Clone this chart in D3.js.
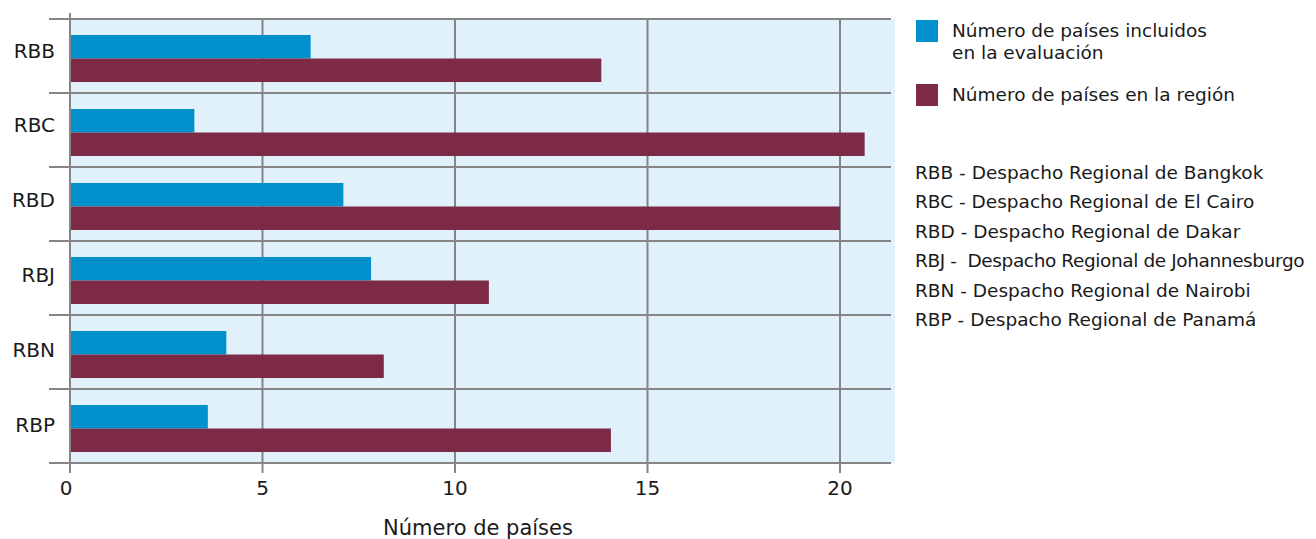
<!DOCTYPE html>
<html>
<head>
<meta charset="utf-8">
<script src="https://cdn.jsdelivr.net/npm/d3@7"></script>
<style>
  html, body { margin: 0; padding: 0; background: #fff; }
  svg { display: block; font-family: "DejaVu Sans", Verdana, sans-serif; }
</style>
</head>
<body>
<svg id="chart" width="1316" height="539"></svg>
<script>
// ---- data ----
const categories = ["RBB", "RBC", "RBD", "RBJ", "RBN", "RBP"];
const seriesNames = ["Número de países incluidos en la evaluación", "Número de países en la región"];
const incluidos = [6.25, 3.23, 7.1, 7.82, 4.06, 3.58];
const enRegion = [13.8, 20.64, 20.0, 10.88, 8.15, 14.05];
const xTicks = [0, 5, 10, 15, 20];
const legendLines = [["Número de países incluidos", "en la evaluación"], ["Número de países en la región"]];
const regionNotes = [
  "RBB - Despacho Regional de Bangkok",
  "RBC - Despacho Regional de El Cairo",
  "RBD - Despacho Regional de Dakar",
  "RBJ -  Despacho Regional de Johannesburgo",
  "RBN - Despacho Regional de Nairobi",
  "RBP - Despacho Regional de Panamá"
];
const xTitle = "Número de países";

(function () {
// ---- styles ----
const colors = ["#0091CD", "#7D2A47"];
const gridColor = "#858585";
const bgColor = "#E0F1FB";
const textColor = "#1a1a1a";

const svg = d3.select("#chart");
const pLeft = 70, pRight = 891, pTop = 19, pBottom = 463;

const x = d3.scaleLinear().domain([0, 20]).range([pLeft, pLeft + 770]);
const y = d3.scaleBand().domain(categories).range([pTop, pBottom]);
const sub = d3.scaleBand().domain([0, 1]).range([16, 63]);
const yLabel = d3.scalePoint().domain(categories).range([50.5, 424.5]);

// background
svg.append("rect").attr("x", pLeft).attr("y", pTop)
  .attr("width", 895 - pLeft).attr("height", pBottom - pTop).attr("fill", bgColor);

// horizontal grid lines (band boundaries), extending left as ticks
const bounds = categories.map(c => y(c)).concat([pBottom]);
svg.append("g").selectAll("line").data(bounds).join("line")
  .attr("x1", 49).attr("x2", pRight)
  .attr("y1", d => d).attr("y2", d => d)
  .attr("stroke", gridColor).attr("stroke-width", 2);

// vertical grid lines
svg.append("g").selectAll("line").data(xTicks.filter(t => t > 0)).join("line")
  .attr("x1", d => x(d)).attr("x2", d => x(d))
  .attr("y1", pTop).attr("y2", 473)
  .attr("stroke", gridColor).attr("stroke-width", 2);
// y axis line
svg.append("line").attr("x1", x(0)).attr("x2", x(0)).attr("y1", 13).attr("y2", 473)
  .attr("stroke", gridColor).attr("stroke-width", 2);

// bars
const data = categories.map((c, i) => ({ c, v: [incluidos[i], enRegion[i]] }));
const g = svg.append("g");
data.forEach(d => {
  d.v.forEach((v, s) => {
    g.append("rect")
      .attr("x", x(0) + 1)
      .attr("y", y(d.c) + sub(s))
      .attr("width", x(v) - x(0) - 1)
      .attr("height", sub.bandwidth())
      .attr("fill", colors[s]);
  });
});

// category labels
svg.append("g").selectAll("text").data(categories).join("text")
  .attr("x", 55).attr("y", d => yLabel(d) + 7)
  .attr("text-anchor", "end")
  .attr("font-size", 20).attr("fill", textColor).text(d => d);

// x tick labels
svg.append("g").selectAll("text").data(xTicks).join("text")
  .attr("x", d => x(d) - (d === 0 ? 4 : 0)).attr("y", 495)
  .attr("text-anchor", "middle").attr("font-size", 20).attr("fill", textColor)
  .text(d => d);

// x title
svg.append("text").attr("x", 478).attr("y", 535).attr("text-anchor", "middle")
  .attr("font-size", 21).attr("fill", textColor).text(xTitle);

// legend
const legY = [20, 84];
legendLines.forEach((lines, i) => {
  svg.append("rect").attr("x", 916).attr("y", legY[i]).attr("width", 22).attr("height", 22)
    .attr("fill", colors[i]);
  lines.forEach((ln, j) => {
    svg.append("text").attr("x", 952).attr("y", legY[i] + 17 + j * 21.5)
      .attr("font-size", 18.5).attr("fill", textColor).text(ln);
  });
});

// region notes
svg.append("g").selectAll("text").data(regionNotes).join("text")
  .attr("x", 915).attr("y", (d, i) => 179 + i * 29.4)
  .attr("font-size", 18.5).attr("fill", textColor)
  .style("white-space", "pre").attr("xml:space", "preserve")
  .style("letter-spacing", d => d.indexOf("Johannesburgo") >= 0 ? "-0.4px" : null)
  .text(d => d);
})();
</script>
</body>
</html>
